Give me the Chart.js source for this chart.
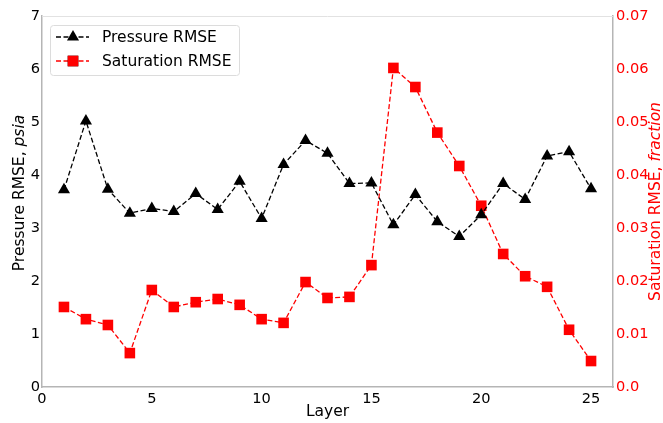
<!DOCTYPE html>
<html lang="en">
<head>
    <meta charset="UTF-8">
    <title>Layer RMSE</title>
    <script src="https://cdn.jsdelivr.net/npm/chart.js"></script>
    <style>
        html, body { margin: 0; padding: 0; background: #fff; }
        #wrap { width: 663px; height: 423px; position: relative; }
    </style>
</head>
<body>
    <div id="wrap"><canvas id="rmseChart"></canvas></div>
    <script>
        // Layer numbers and RMSE per layer
        const layers = [1, 2, 3, 4, 5, 6, 7, 8, 9, 10, 11, 12, 13, 14, 15, 16, 17, 18, 19, 20, 21, 22, 23, 24, 25];
        const pressureRmse = [3.72, 5.02, 3.73, 3.28, 3.37, 3.31, 3.65, 3.35, 3.88, 3.18, 4.20, 4.65, 4.41,
            3.84, 3.85, 3.06, 3.63, 3.12, 2.84, 3.25, 3.84, 3.54, 4.36, 4.44, 3.74];
        const saturationRmse = [0.0151, 0.0128, 0.0117, 0.0064, 0.0183, 0.0151, 0.0160, 0.0166, 0.0155, 0.0128,
            0.0121, 0.0198, 0.0168, 0.0170, 0.0230, 0.0602, 0.0566, 0.0480, 0.0417, 0.0342, 0.0251, 0.0209,
            0.0189, 0.0108, 0.0049];

        // Axis ticks
        const layerTicks = [0, 5, 10, 15, 20, 25];
        const pressureTicks = [0, 1, 2, 3, 4, 5, 6, 7];
        const saturationTicks = [0, 0.01, 0.02, 0.03, 0.04, 0.05, 0.06, 0.07];

        const FONT = 'DejaVu Sans';
        const FS = 15.5;      // titles and legend
        const TICK_FS = 14.6; // tick labels
        const RED = '#ff0000';
        const SPINE = '#b5b5b5';

        const toPoints = vals => vals.map((v, i) => ({ x: layers[i], y: v }));
        const fixTicks = list => scale => { scale.ticks = list.map(v => ({ value: v })); };

        // Axis titles (with italic units) and the legend box
        const decorations = {
            id: 'decorations',
            afterDraw(chart) {
                const ctx = chart.ctx;
                const area = chart.chartArea;
                ctx.save();

                // top spine
                ctx.strokeStyle = '#e2e2e2';
                ctx.lineWidth = 1;
                ctx.beginPath();
                ctx.moveTo(area.left, area.top + 0.5);
                ctx.lineTo(area.right, area.top + 0.5);
                ctx.stroke();

                function mixedTitle(parts, cx, cy, rotate, color) {
                    ctx.save();
                    ctx.translate(cx, cy);
                    if (rotate) ctx.rotate(-Math.PI / 2);
                    ctx.fillStyle = color;
                    ctx.textBaseline = 'middle';
                    ctx.textAlign = 'left';
                    let total = 0;
                    parts.forEach(p => {
                        ctx.font = (p.italic ? 'italic ' : '') + FS + 'px "' + FONT + '"';
                        p.w = ctx.measureText(p.text).width;
                        total += p.w;
                    });
                    let x = -total / 2;
                    parts.forEach(p => {
                        ctx.font = (p.italic ? 'italic ' : '') + FS + 'px "' + FONT + '"';
                        ctx.fillText(p.text, x, 0);
                        x += p.w;
                    });
                    ctx.restore();
                }

                const midY = (area.top + area.bottom) / 2;
                mixedTitle([{ text: 'Layer' }], (area.left + area.right) / 2, 412, false, '#000');
                mixedTitle([{ text: 'Pressure RMSE, ' }, { text: 'psia', italic: true }], 20, 193, true, '#000');
                mixedTitle([{ text: 'Saturation RMSE, ' }, { text: 'fraction', italic: true }], 656, midY, true, RED);

                // legend
                const bx = 50, by = 25, bw = 189, bh = 50;
                ctx.fillStyle = 'rgba(255,255,255,0.85)';
                ctx.strokeStyle = '#dcdcdc';
                ctx.lineWidth = 1;
                ctx.beginPath();
                ctx.roundRect(bx + 0.5, by + 0.5, bw, bh, 3);
                ctx.fill();
                ctx.stroke();

                chart.data.datasets.forEach((ds, i) => {
                    const y = 37 + i * 24;
                    ctx.strokeStyle = ds.borderColor;
                    ctx.lineWidth = ds.borderWidth;
                    ctx.setLineDash(ds.borderDash);
                    ctx.beginPath();
                    ctx.moveTo(56, y);
                    ctx.lineTo(89, y);
                    ctx.stroke();
                    ctx.setLineDash([]);
                    Chart.helpers.drawPoint(ctx, {
                        pointStyle: ds.pointStyle,
                        radius: ds.pointRadius,
                        borderWidth: 0,
                        rotation: 0
                    }, 73, y);
                    ctx.fillStyle = ds.pointBackgroundColor;
                    ctx.fill();
                    ctx.fillStyle = '#000';
                    ctx.font = FS + 'px "' + FONT + '"';
                    ctx.textBaseline = 'middle';
                    ctx.textAlign = 'left';
                    ctx.fillText(ds.label, 102, y + 1);
                });

                ctx.restore();
            }
        };

        new Chart(document.getElementById('rmseChart'), {
            type: 'line',
            data: {
                datasets: [{
                    label: 'Pressure RMSE',
                    data: toPoints(pressureRmse),
                    yAxisID: 'y',
                    borderColor: '#000',
                    borderWidth: 1.3,
                    borderDash: [5, 2.5],
                    pointStyle: 'triangle',
                    pointRadius: 7,
                    pointBackgroundColor: '#000',
                    pointBorderColor: '#000',
                    pointBorderWidth: 0
                }, {
                    label: 'Saturation RMSE',
                    data: toPoints(saturationRmse),
                    yAxisID: 'y1',
                    borderColor: RED,
                    borderWidth: 1.3,
                    borderDash: [5, 2.5],
                    pointStyle: 'rect',
                    pointRadius: 7.5,
                    pointBackgroundColor: RED,
                    pointBorderColor: RED,
                    pointBorderWidth: 0
                }]
            },
            options: {
                responsive: true,
                maintainAspectRatio: false,
                animation: false,
                layout: { padding: { top: 16, left: 0, right: 0, bottom: 0 } },
                plugins: {
                    legend: { display: false },
                    tooltip: { enabled: false }
                },
                scales: {
                    x: {
                        type: 'linear',
                        min: 0,
                        max: 26,
                        afterBuildTicks: fixTicks(layerTicks),
                        afterFit: s => { s.height = 36; },
                        grid: { display: false, drawTicks: false },
                        border: { display: true, color: SPINE, width: 1.5 },
                        ticks: { color: '#000', padding: 3, font: { family: FONT, size: TICK_FS }, maxRotation: 0 }
                    },
                    y: {
                        position: 'left',
                        min: 0,
                        max: 7,
                        afterBuildTicks: fixTicks(pressureTicks),
                        afterFit: s => { s.width = 42; },
                        grid: { display: false, drawTicks: false },
                        border: { display: true, color: SPINE, width: 1.5 },
                        ticks: { color: '#000', padding: 2, font: { family: FONT, size: TICK_FS } }
                    },
                    y1: {
                        position: 'right',
                        min: 0,
                        max: 0.07,
                        afterBuildTicks: fixTicks(saturationTicks),
                        afterFit: s => { s.width = 50; },
                        grid: { display: false, drawTicks: false },
                        border: { display: true, color: SPINE, width: 1.5 },
                        ticks: {
                            color: RED,
                            padding: 3,
                            font: { family: FONT, size: TICK_FS },
                            callback: v => (v === 0 ? '0.0' : v.toFixed(2))
                        }
                    }
                }
            },
            plugins: [decorations]
        });
    </script>
</body>
</html>
